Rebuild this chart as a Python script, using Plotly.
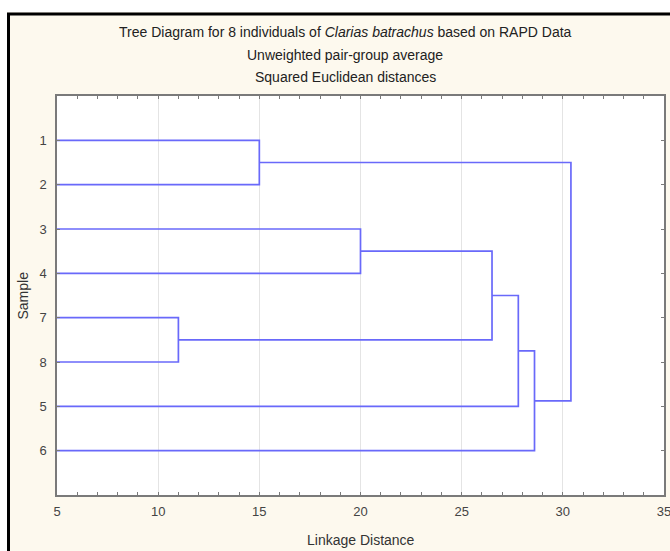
import plotly.graph_objects as go

# ---- data ----
leaf_labels = ["1", "2", "3", "4", "7", "8", "5", "6"]
# merges: (child_a, child_b, linkage distance); children are leaf labels or merge ids "C0", "C1", ...
merge_a = ["1", "7", "3", "C2", "C3", "C4", "C0"]
merge_b = ["2", "8", "4", "C1", "5", "6", "C5"]
merge_dist = [15.0, 11.0, 20.0, 26.5, 27.8, 28.6, 30.4]
x_tick_vals = [5, 10, 15, 20, 25, 30, 35]

title_lines = [
    "Tree Diagram for 8 individuals of <i>Clarias batrachus</i> based on RAPD Data",
    "Unweighted pair-group average",
    "Squared Euclidean distances",
]

X_MIN = 5
# ---- build dendrogram segments ----
pos = {lab: i + 1 for i, lab in enumerate(leaf_labels)}
height = {lab: X_MIN for lab in leaf_labels}
xs, ys = [], []
for k, (a, b, d) in enumerate(zip(merge_a, merge_b, merge_dist)):
    ya, yb = pos[a], pos[b]
    xs += [height[a], d, d, height[b], None]
    ys += [ya, ya, yb, yb, None]
    cid = f"C{k}"
    pos[cid] = (ya + yb) / 2
    height[cid] = d

fig = go.Figure()
fig.add_trace(go.Scatter(x=xs, y=ys, mode="lines",
                         line=dict(color="rgb(105,105,250)", width=1.7),
                         hoverinfo="skip", showlegend=False))

W, H = 670, 551
# plot area in page pixels: x 57..664, y 96..495
L, R, T, B = 57, W - 664, 96, H - 495
pw, ph = W - L - R, H - T - B

def px(xv):  # page x pixel -> paper coord
    return (xv - L) / pw

def py(yv):  # page y pixel -> paper coord
    return (H - B - yv) / ph

font_family = "Liberation Sans, Arial, sans-serif"
cream = "#FDF9EE"

shapes = [
    dict(type="rect", xref="paper", yref="paper", x0=px(0), x1=px(W), y0=py(12), y1=py(0),
         fillcolor="white", line_width=0, layer="below"),
    dict(type="rect", xref="paper", yref="paper", x0=px(0), x1=px(7), y0=py(H), y1=py(0),
         fillcolor="white", line_width=0, layer="below"),
    dict(type="line", xref="paper", yref="paper", x0=px(7), x1=px(W), y0=py(14), y1=py(14),
         line=dict(color="black", width=3)),
    dict(type="line", xref="paper", yref="paper", x0=px(8.5), x1=px(8.5), y0=py(13), y1=py(H),
         line=dict(color="black", width=3)),
]

annotations = []
for txt, yv in zip(title_lines, [32, 55, 77]):
    annotations.append(dict(text=txt, xref="paper", yref="paper", x=px(345), y=py(yv),
                            xanchor="center", yanchor="middle", showarrow=False,
                            font=dict(family=font_family, size=14, color="#222222")))
# axis titles as annotations so the margins stay fixed
annotations.append(dict(text="Linkage Distance", xref="paper", yref="paper", x=0.5, y=py(540),
                        xanchor="center", yanchor="middle", showarrow=False,
                        font=dict(family=font_family, size=14, color="#333333")))
annotations.append(dict(text="Sample", xref="paper", yref="paper", x=px(22), y=0.5,
                        xanchor="center", yanchor="middle", showarrow=False, textangle=-90,
                        font=dict(family=font_family, size=14, color="#333333")))

fig.update_layout(
    width=W, height=H,
    margin=dict(l=L, r=R, t=T, b=B, autoexpand=False),
    paper_bgcolor=cream, plot_bgcolor="white",
    shapes=shapes, annotations=annotations,
    font=dict(family=font_family, size=13, color="#333333"),
    xaxis=dict(range=[5, 35], tickvals=x_tick_vals, showgrid=True, gridcolor="#E4E4E4",
               gridwidth=1, zeroline=False, showline=True, linecolor="#7A7A7A", linewidth=1.5,
               mirror="allticks", ticks="inside", ticklen=3, tickcolor="#7A7A7A",
               minor=dict(dtick=1, ticks="inside", ticklen=3, tickcolor="#7A7A7A", showgrid=False),
               ticklabelstandoff=4, automargin=False, ticklabeloverflow="allow",
               tickfont=dict(family=font_family, size=13, color="#444444")),
    yaxis=dict(range=[9, 0], tickvals=list(range(1, len(leaf_labels) + 1)), ticktext=leaf_labels,
               showgrid=False, zeroline=False, showline=True, linecolor="#7A7A7A", linewidth=1.5,
               mirror="allticks", ticks="inside", ticklen=3, tickcolor="#7A7A7A",
               ticklabelstandoff=6, automargin=False,
               tickfont=dict(family=font_family, size=13, color="#444444")),
)

fig.write_html("out.html", config={"displayModeBar": False},
               post_script="document.body.style.margin='0';document.body.style.overflow='hidden';")
